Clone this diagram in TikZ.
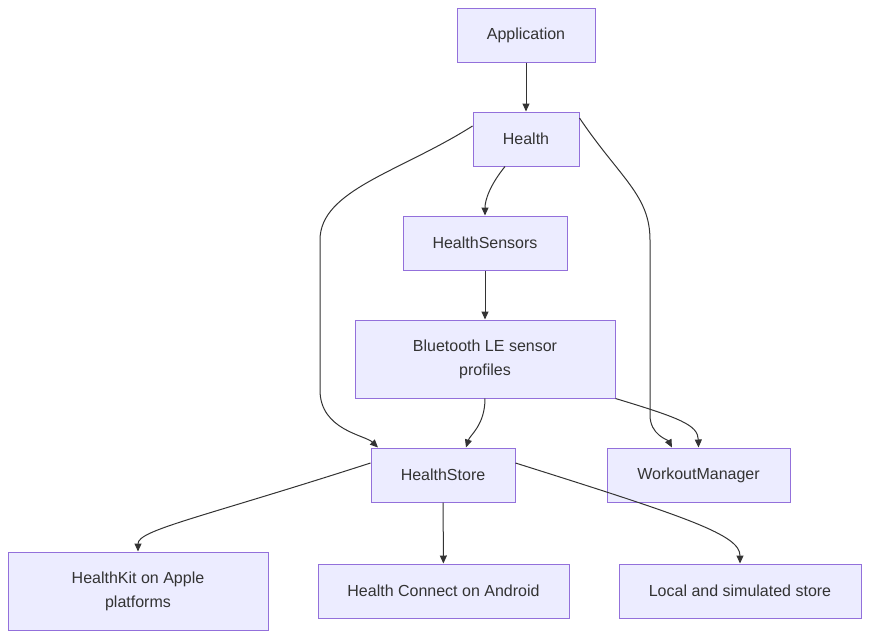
\documentclass[tikz,border=0pt]{standalone}
\usepackage{fontspec}
\setmainfont{Liberation Sans}
\usetikzlibrary{arrows.meta}
\definecolor{nfill}{HTML}{ECECFF}
\definecolor{nstroke}{HTML}{9370DB}
\definecolor{txt}{HTML}{333333}
\begin{document}
\begin{tikzpicture}[x=1pt,y=-1pt,
  box/.style={draw=nstroke,fill=nfill,line width=1pt,text=txt,font=\fontsize{16}{24}\selectfont,align=center,inner sep=0pt},
  edge/.style={draw=txt,line width=1pt,-{Triangle[length=8pt,width=7pt]}}]
\useasboundingbox (0,0) rectangle (870,638);
\node[box,minimum width=138,minimum height=54] (app) at (526,35) {Application};
\node[box,minimum width=106,minimum height=54] (h) at (526,139) {Health};
\node[box,minimum width=164,minimum height=54] (hs) at (485,243) {HealthSensors};
\node[box,minimum width=260,minimum height=78] (bt) at (485,359) {Bluetooth LE sensor\\profiles};
\node[box,minimum width=144,minimum height=54] (st) at (443,475) {HealthStore};
\node[box,minimum width=183,minimum height=54] (wm) at (698.5,475) {WorkoutManager};
\node[box,minimum width=260,minimum height=78] (hk) at (138,591) {HealthKit on Apple\\platforms};
\node[box,minimum width=251,minimum height=54] (hc) at (443.5,591) {Health Connect on Android};
\node[box,minimum width=242,minimum height=54] (lo) at (740,591) {Local and simulated store};
\draw[edge] (app) -- (h);
\draw[edge] ([xshift=-21]h.south) .. controls (490,185) and (485,200) .. ([xshift=0]hs.north);
\draw[edge] ([yshift=13]h.west) .. controls (400,172) and (320,190) .. (320,240) -- (320,390) .. controls (320,430) and (365,435) .. ([xshift=-65]st.north);
\draw[edge] ([yshift=21]h.east) .. controls (620,178) and (650,195) .. (650,240) -- (650,415) .. controls (650,435) and (668,440) .. ([xshift=-26.5]wm.north);
\draw[edge] (hs) -- (bt);
\draw[edge] (bt.south) .. controls (485,425) and (470,435) .. ([xshift=23]st.north);
\draw[edge] (bt.south east) .. controls (680,418) and (698,425) .. (wm.north);
\draw[edge] ([yshift=12]st.west) .. controls (200,518) and (138,530) .. (hk.north);
\draw[edge] (st) -- (hc);
\draw[edge] ([yshift=12]st.east) .. controls (690,518) and (740,535) .. (lo.north);
\end{tikzpicture}
\end{document}
